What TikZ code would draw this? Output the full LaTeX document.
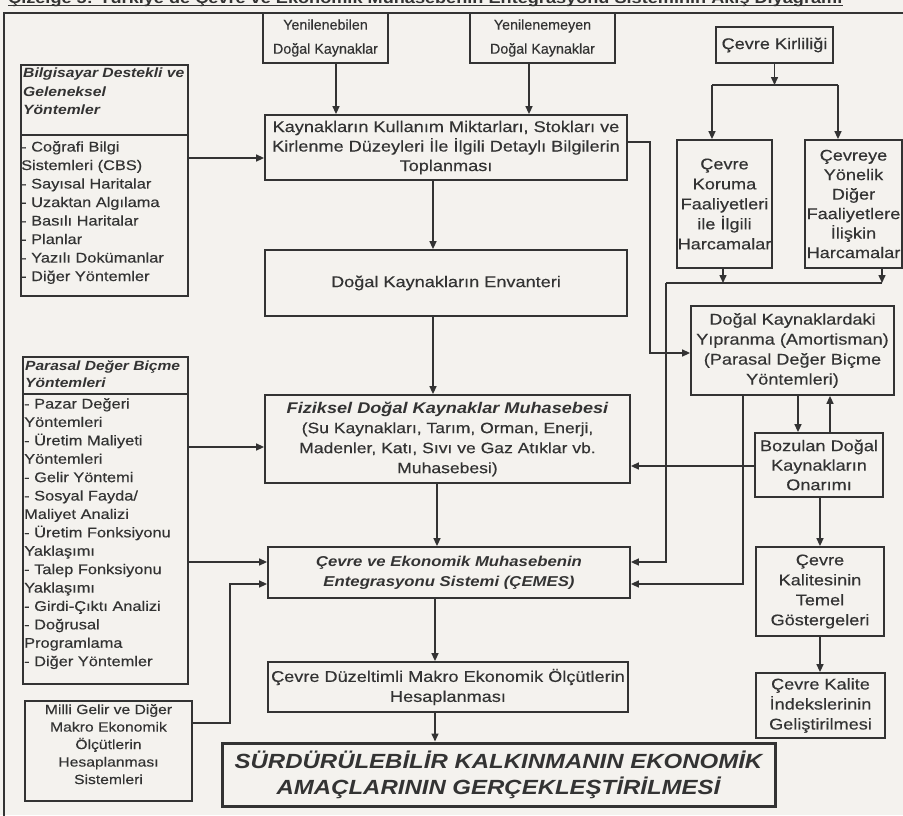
\documentclass[tikz,border=0pt]{standalone}
\usepackage{fontspec}
\setmainfont{Liberation Sans}[FakeStretch=1.17, UprightFeatures={FakeBold=0.35}]
\newfontfamily\plainfont{Liberation Sans}[FakeBold=0.35]
\usetikzlibrary{arrows.meta}
\definecolor{ink}{HTML}{333333}
\definecolor{paper}{HTML}{F4F2EE}
\newcommand{\fsMain}{\fontsize{15.5}{19.5}\selectfont}
\newcommand{\fsMid}{\fontsize{15}{20}\selectfont}
\newcommand{\fsLeft}{\fontsize{14}{18.5}\selectfont}
\newcommand{\fsSmall}{\fontsize{13.4}{17.5}\selectfont}
\newcommand{\fsBig}{\fontsize{20.5}{26}\selectfont}
\tikzset{
  box/.style={draw=ink, line width=1.8pt, align=center, text=ink, inner sep=1pt, font=\fsMain},
  conn/.style={draw=ink, line width=1.5pt},
  arr/.style={conn, -{Triangle[length=8pt,width=7pt]}},
  ltext/.style={anchor=north west, inner sep=0pt, align=left, text=ink},
}
\begin{document}
\begin{tikzpicture}[x=1pt,y=-1pt]
\fill[paper] (0,0) rectangle (903,815);
\useasboundingbox (0,0) rectangle (903,815);
\clip (0,0) rectangle (903,815);

% title (cut off at the top edge, as in the reference)
\node[anchor=base west, inner sep=0pt, text=ink, font=\fontsize{15.5}{15.5}\selectfont\bfseries] (title) at (8,3)
  {Çizelge 5: Türkiye'de Çevre ve Ekonomik Muhasebenin Entegrasyonu Sisteminin Akış Diyagramı};
\draw[ink, line width=1.2pt] ([yshift=-2.5pt]title.base west) -- ([yshift=-2.5pt]title.base east);

% outer frame
\draw[ink, line width=1.5pt] (4,830) -- (4,13) -- (903,13);

% boxes
\node[box, font=\plainfont\fontsize{14.3}{24}\selectfont, minimum width=125pt, minimum height=50pt] (yen1) at (325.5,38) {Yenilenebilen\\Doğal Kaynaklar};
\node[box, font=\plainfont\fontsize{14.3}{24}\selectfont, minimum width=145pt, minimum height=50pt] (yen2) at (542.5,38) {Yenilenemeyen\\Doğal Kaynaklar};
\node[box, minimum width=117pt, minimum height=36pt] (kirl) at (774.5,45) {Çevre Kirliliği};

\node[box, minimum width=362pt, minimum height=65pt] (kayn) at (446,147.5)
  {Kaynakların Kullanım Miktarları, Stokları ve\\Kirlenme Düzeyleri İle İlgili Detaylı Bilgilerin\\Toplanması};
\node[box, font=\fontsize{15.5}{20}\selectfont, minimum width=95pt, minimum height=128pt] (koru) at (724.5,204)
  {Çevre\\Koruma\\Faaliyetleri\\ile İlgili\\Harcamalar};
\node[box, font=\fontsize{15.5}{19.5}\selectfont, minimum width=97pt, minimum height=128pt] (cevy) at (853.5,204)
  {Çevreye\\Yönelik\\Diğer\\Faaliyetlere\\İlişkin\\Harcamalar};

\node[box, minimum width=362pt, minimum height=66pt] (env) at (446,283) {Doğal Kaynakların Envanteri};
\node[box, font=\fontsize{15.5}{20}\selectfont, minimum width=203pt, minimum height=89pt] (dky) at (792.5,350.5)
  {Doğal Kaynaklardaki\\Yıpranma (Amortisman)\\(Parasal Değer Biçme\\Yöntemleri)};

\node[box, font=\fsMid, minimum width=365pt, minimum height=88pt] (fiz) at (447.5,439)
  {{\fontsize{15.5}{20}\selectfont\bfseries\itshape Fiziksel Doğal Kaynaklar Muhasebesi}\\(Su Kaynakları, Tarım, Orman, Enerji,\\Madenler, Katı, Sıvı ve Gaz Atıklar vb.\\Muhasebesi)};
\node[box, minimum width=128pt, minimum height=64pt] (boz) at (819,465)
  {Bozulan Doğal\\Kaynakların\\Onarımı};

\node[box, font=\fontsize{14.3}{20}\selectfont\bfseries\itshape, minimum width=362pt, minimum height=51pt] (cemes) at (449,572.5)
  {Çevre ve Ekonomik Muhasebenin\\Entegrasyonu Sistemi (ÇEMES)};
\node[box, font=\fontsize{15.5}{20}\selectfont, minimum width=128pt, minimum height=89pt] (kal) at (820,591.5)
  {Çevre\\Kalitesinin\\Temel\\Göstergeleri};

\node[box, font=\fontsize{15.5}{20}\selectfont, minimum width=360pt, minimum height=50pt] (duz) at (448,687)
  {Çevre Düzeltimli Makro Ekonomik Ölçütlerin\\Hesaplanması};
\node[box, font=\fontsize{15.5}{20}\selectfont, minimum width=129pt, minimum height=65pt] (ind) at (820.5,705.5)
  {Çevre Kalite\\İndekslerinin\\Geliştirilmesi};

\node[box, minimum width=167pt, minimum height=100pt, anchor=north] (milli) at (108.5,700) {};
\node[anchor=north, inner sep=0pt, align=center, text=ink, font=\fsSmall] (millit) at (108.5,704)
  {Milli Gelir ve Diğer\\Makro Ekonomik\\Ölçütlerin\\Hesaplanması\\Sistemleri};

\node[box, line width=3pt, font=\fsBig\bfseries\itshape, minimum width=553pt, minimum height=63pt] (surd) at (498.5,774.5)
  {SÜRDÜRÜLEBİLİR KALKINMANIN EKONOMİK\\AMAÇLARININ GERÇEKLEŞTİRİLMESİ};

% left boxes with header
\node[box, minimum width=167pt, minimum height=231pt] (bilg) at (104.5,180.5) {};
\draw[ink, line width=1.8pt] (bilg.west |- 0,135) -- (bilg.east |- 0,135);
\node[ltext, font=\fontsize{13.4}{18.5}\selectfont\bfseries\itshape] (bilgh) at (23,68) {Bilgisayar Destekli ve\\Geleneksel\\Yöntemler};
\node[ltext, font=\fsLeft] (bilgb) at (21,141)
  {- Coğrafi Bilgi\\Sistemleri (CBS)\\- Sayısal Haritalar\\- Uzaktan Algılama\\- Basılı Haritalar\\- Planlar\\- Yazılı Dokümanlar\\- Diğer Yöntemler};

\node[box, minimum width=165pt, minimum height=327pt] (para) at (105.5,520.5) {};
\draw[ink, line width=1.8pt] (para.west |- 0,394) -- (para.east |- 0,394);
\node[ltext, font=\fontsize{13.3}{17}\selectfont\bfseries\itshape] (parah) at (25,361) {Parasal Değer Biçme\\Yöntemleri};
\node[ltext, font=\fontsize{14}{18.4}\selectfont] (parab) at (24,398)
  {- Pazar Değeri\\Yöntemleri\\- Üretim Maliyeti\\Yöntemleri\\- Gelir Yöntemi\\- Sosyal Fayda/\\Maliyet Analizi\\- Üretim Fonksiyonu\\Yaklaşımı\\- Talep Fonksiyonu\\Yaklaşımı\\- Girdi-Çıktı Analizi\\- Doğrusal\\Programlama\\- Diğer Yöntemler};

% connectors: centre column
\draw[arr] (yen1.south -| 336,0) -- (kayn.north -| 336,0);
\draw[arr] (yen2.south -| 529,0) -- (kayn.north -| 529,0);
\draw[arr] (bilg.east |- 0,158) -- (kayn.west |- 0,158);
\draw[arr] (kayn.south -| 433,0) -- (env.north -| 433,0);
\draw[arr] (env.south -| 433,0) -- (fiz.north -| 433,0);
\draw[arr] (fiz.south -| 437,0) -- (cemes.north -| 437,0);
\draw[arr] (cemes.south -| 435,0) -- (duz.north -| 435,0);
\draw[arr] (duz.south -| 435,0) -- (surd.north -| 435,0);
\draw[arr] (para.east |- 0,447) -- (fiz.west |- 0,447);
\draw[arr] (para.east |- 0,562) -- (cemes.west |- 0,562);
\draw[arr] (milli.east |- 0,723) -- (230,723) -- (230,584) -- (cemes.west |- 0,584);
\draw[arr] (kayn.east |- 0,142) -- (650,142) -- (650,353) -- (dky.west |- 0,353);

% connectors: right column
\coordinate (split) at (774.5,85);
\draw[arr] (kirl.south) -- (split);
\draw[conn] (712,85) -- (838,85);
\draw[arr] (712,85) -- (koru.north -| 712,0);
\draw[arr] (838,85) -- (cevy.north -| 838,0);
\coordinate (gather) at (666,283);
\draw[arr] (koru.south -| 723,0) -- (723,283);
\draw[arr] (cevy.south -| 882,0) -- (882,283);
\draw[conn] (882,283) -- (gather);
\draw[arr] (gather) -- (666,562) -- (cemes.east |- 0,562);
\draw[arr] (dky.south -| 743,0) -- (743,584) -- (cemes.east |- 0,584);
\draw[arr] (dky.south -| 798,0) -- (boz.north -| 798,0);
\draw[arr] (boz.north -| 830,0) -- (dky.south -| 830,0);
\draw[arr] (boz.west |- 0,466) -- (fiz.east |- 0,466);
\draw[arr] (boz.south -| 820,0) -- (kal.north -| 820,0);
\draw[arr] (kal.south -| 820,0) -- (ind.north -| 820,0);
\end{tikzpicture}
\end{document}
